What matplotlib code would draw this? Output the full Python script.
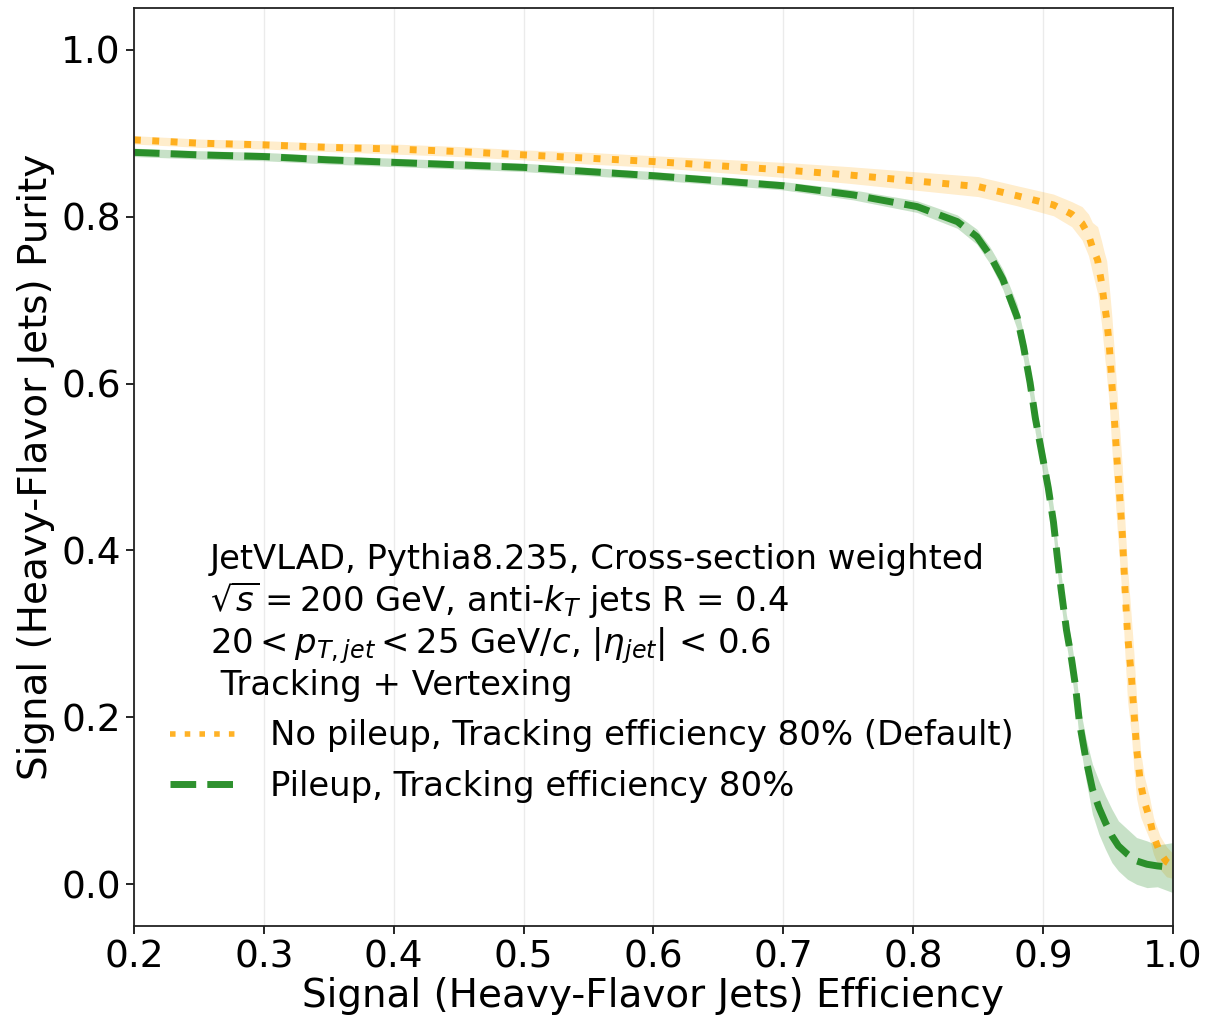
import matplotlib
matplotlib.use("Agg")
import matplotlib.pyplot as plt

# No pileup, tracking efficiency 80% (default)
eff_nopu = [0.200, 0.250, 0.300, 0.350, 0.400, 0.450, 0.500, 0.550, 0.600, 0.650,
            0.700, 0.750, 0.800, 0.850, 0.880, 0.908, 0.922, 0.930, 0.935, 0.938,
            0.942, 0.945, 0.947, 0.949, 0.951, 0.953, 0.955, 0.957, 0.959, 0.961,
            0.963, 0.965, 0.968, 0.970, 0.972, 0.975, 0.978, 0.982, 0.985, 0.990,
            0.995, 1.000]
pur_nopu = [0.892, 0.888, 0.886, 0.883, 0.881, 0.878, 0.874, 0.870, 0.866, 0.861,
            0.856, 0.850, 0.843, 0.836, 0.825, 0.814, 0.803, 0.792, 0.778, 0.763,
            0.748, 0.721, 0.698, 0.677, 0.645, 0.600, 0.555, 0.507, 0.465, 0.420,
            0.356, 0.300, 0.249, 0.206, 0.163, 0.121, 0.099, 0.079, 0.058, 0.038,
            0.027, 0.022]
err_nopu = [0.005, 0.005, 0.005, 0.005, 0.006, 0.006, 0.006, 0.007, 0.007, 0.008,
            0.009, 0.010, 0.011, 0.012, 0.012, 0.013, 0.015, 0.020, 0.025, 0.030,
            0.040, 0.050, 0.060, 0.070, 0.070, 0.080, 0.080, 0.080, 0.080, 0.080,
            0.080, 0.080, 0.070, 0.070, 0.060, 0.040, 0.030, 0.025, 0.022, 0.020,
            0.018, 0.015]

# Pileup, tracking efficiency 80%
eff_pu = [0.200, 0.250, 0.300, 0.350, 0.400, 0.450, 0.500, 0.550, 0.600, 0.650,
          0.700, 0.754, 0.803, 0.834, 0.849, 0.859, 0.869, 0.880, 0.885, 0.890,
          0.894, 0.899, 0.904, 0.908, 0.911, 0.914, 0.918, 0.922, 0.925, 0.928,
          0.933, 0.938, 0.943, 0.948, 0.953, 0.958, 0.965, 0.972, 0.980, 0.988,
          1.000]
pur_pu = [0.877, 0.874, 0.872, 0.868, 0.865, 0.862, 0.859, 0.854, 0.849, 0.843,
          0.837, 0.826, 0.812, 0.794, 0.776, 0.754, 0.725, 0.680, 0.644, 0.601,
          0.559, 0.517, 0.475, 0.434, 0.392, 0.352, 0.305, 0.269, 0.237, 0.194,
          0.150, 0.114, 0.092, 0.074, 0.058, 0.046, 0.036, 0.028, 0.024, 0.022,
          0.020]
err_pu = [0.005, 0.005, 0.005, 0.005, 0.005, 0.005, 0.005, 0.005, 0.005, 0.005,
          0.005, 0.006, 0.007, 0.008, 0.009, 0.010, 0.012, 0.015, 0.016, 0.018,
          0.018, 0.018, 0.018, 0.018, 0.018, 0.018, 0.018, 0.020, 0.020, 0.022,
          0.025, 0.030, 0.032, 0.032, 0.032, 0.030, 0.030, 0.028, 0.028, 0.025,
          0.030]

labels = ["No pileup, Tracking efficiency 80% (Default)",
          "Pileup, Tracking efficiency 80%"]
info_lines = ["JetVLAD, Pythia8.235, Cross-section weighted",
              r"$\sqrt{s} = 200$ GeV, anti-$k_{T}$ jets R = 0.4",
              r"$20 < p_{T,jet} < 25$ GeV/$c$, $|\eta_{jet}|$ < 0.6",
              " Tracking + Vertexing"]

c_orange = "orange"
c_green = "forestgreen"

fig = plt.figure(figsize=(12.06, 10.23), dpi=100)
ax = fig.add_axes([0.111, 0.0948, 0.8616, 0.8974])

# uncertainty bands
lo = [p - e for p, e in zip(pur_nopu, err_nopu)]
hi = [p + e for p, e in zip(pur_nopu, err_nopu)]
ax.fill_between(eff_nopu, lo, hi, color=c_orange, alpha=0.2, lw=0)
lo = [p - e for p, e in zip(pur_pu, err_pu)]
hi = [p + e for p, e in zip(pur_pu, err_pu)]
ax.fill_between(eff_pu, lo, hi, color=c_green, alpha=0.25, lw=0)

ax.plot(eff_nopu, pur_nopu, ":", color=c_orange, alpha=0.85, lw=5, label=labels[0])
ax.plot(eff_pu, pur_pu, "--", color=c_green, alpha=0.95, lw=5, label=labels[1])

ax.set_xlim(0.2, 1.0)
ax.set_ylim(-0.05, 1.05)
ax.set_xticks([0.2, 0.3, 0.4, 0.5, 0.6, 0.7, 0.8, 0.9, 1.0])
ax.set_yticks([0.0, 0.2, 0.4, 0.6, 0.8, 1.0])
ax.tick_params(labelsize=27, length=6, width=1.2)
ax.grid(axis="x", color="#ebebeb", lw=1)
ax.set_axisbelow(True)
for s in ax.spines.values():
    s.set_linewidth(1.3)
    s.set_color("#222222")

ax.set_xlabel("Signal (Heavy-Flavor Jets) Efficiency", fontsize=28, labelpad=1)
ax.set_ylabel("Signal (Heavy-Flavor Jets) Purity", fontsize=28)

ys = [0.389, 0.342, 0.297, 0.252]
for t, y in zip(info_lines, ys):
    ax.text(0.073, y, t, transform=ax.transAxes, fontsize=24.4, va="baseline", ha="left")

leg = ax.legend(loc="upper left", bbox_to_anchor=(0.035, 0.225), frameon=False,
                fontsize=24.4, handlelength=1.9, handletextpad=1.05, labelspacing=0.52,
                borderpad=0, borderaxespad=0)
leg.legend_handles[0].set_linewidth(4)

fig.savefig("out.png", dpi=100)
